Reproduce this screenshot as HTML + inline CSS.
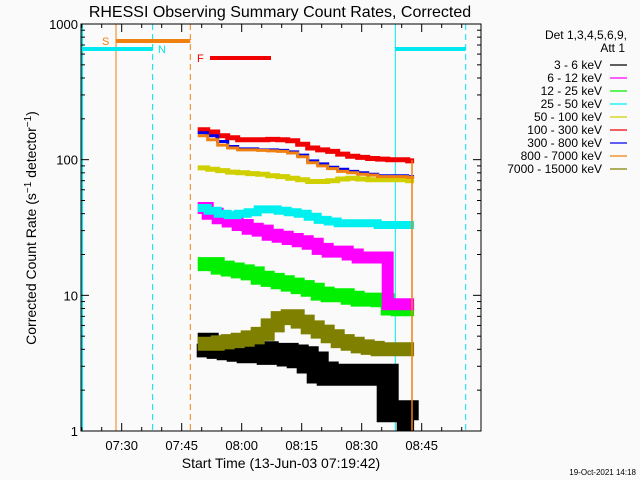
<!DOCTYPE html>
<html><head><meta charset="utf-8"><style>
body{margin:0;background:#fafafa;}
svg{display:block;font-family:"Liberation Sans",sans-serif;}
</style></head><body>
<svg id="chart" width="640" height="480" viewBox="0 0 640 480">
<rect width="640" height="480" fill="#fafafa"/>
<text x="280" y="17" text-anchor="middle" font-size="16" fill="#000">RHESSI Observing Summary Count Rates, Corrected</text>
<text transform="translate(36,228) rotate(-90)" text-anchor="middle" font-size="14" fill="#000">Corrected Count Rate (s<tspan dy="-5" font-size="10">−1</tspan><tspan dy="5"> detector</tspan><tspan dy="-5" font-size="10">−1</tspan><tspan dy="5">)</tspan></text>
<text x="281" y="468" text-anchor="middle" font-size="14" fill="#000">Start Time (13-Jun-03 07:19:42)</text>
<text x="636" y="475" text-anchor="end" font-size="8" fill="#000">19-Oct-2021 14:18</text>
<g id="marks"></g>
<g id="axes"></g>
<g id="legend"></g>
</svg>
<script>
const times=[19,21.5,24,26.5,29,31.5,34,36.5,39,41.5,44,46.5,49,51.5,54,56.5,59,61.5,64,66.5,69,71.5];
const red=[166,160,150,145,140,140,140,141,140,138,130,122,118,115,110,106,104,102,101,100,100,98];
const blue=[158,150,136,125,120,120,118,118,117,114,108,98,93,88,85,82,80,78,76,76,76,75];
const orange=[150,140,128,122,118,118,117,116,115,112,105,95,90,86,82,80,78,77,75,75,75,74];
const yellow=[87,85,83,81,80,79,78,76,75,73,71,69,69,70,72,73,72,71,71,71,71,70];
const cyan=[44,42,40,39,40,41,43,43,42,41,40,38,36,35,34,34,34,34,33,33,33,33];
const magenta=[44,40,37,35,33,31,30,28,27,26,25,24,22,21,21,20,19,19,19,8.6,8.6,8.6];
const green=[17,17,16,15.5,15,14.5,13.5,13,12.5,12,11.5,11,10.3,10,10,9.6,9.3,9.3,9.2,8,7.9,7.9];
const olive=[4.4,4.4,4.5,4.6,4.7,4.9,5.2,6,6.8,7,6.4,5.8,5.4,5,4.6,4.4,4.2,4.1,4,4,4,4];
const black=[4.4,4.2,4.1,4,3.9,3.8,3.8,3.7,3.7,3.6,3.5,3.2,2.7,2.6,2.6,2.6,2.6,2.6,2.6,1.4,1.4,1.2];
const yTickLabels=["1","10","100","1000"];
const xTickLabels=["07:30","07:45","08:00","08:15","08:30","08:45"];
const legendLabels=["3 - 6 keV","6 - 12 keV","12 - 25 keV","25 - 50 keV","50 - 100 keV","100 - 300 keV","300 - 800 keV","800 - 7000 keV","7000 - 15000 keV"];

const NS="http://www.w3.org/2000/svg";
const L=81,R=481,T=24,B=431;
const xs=t=>121.7+4*t;
const ys=v=>B-(B-T)/3*Math.log10(v);
function mk(tag,attrs,parent){const e=document.createElementNS(NS,tag);for(const k in attrs)e.setAttribute(k,attrs[k]);parent.appendChild(e);return e;}
const marks=document.getElementById('marks'),axes=document.getElementById('axes'),leg=document.getElementById('legend');

let e;
e=mk('line',{x1:116,y1:T,x2:116,y2:B,stroke:'#f08010','stroke-width':1},marks);

e=mk('line',{x1:152.6,y1:T,x2:152.6,y2:B,stroke:'#00e8f0','stroke-width':1,'stroke-dasharray':'6,4'},marks);

e=mk('line',{x1:190.3,y1:T,x2:190.3,y2:B,stroke:'#f08010','stroke-width':1,'stroke-dasharray':'6,4'},marks);

e=mk('line',{x1:395.3,y1:T,x2:395.3,y2:B,stroke:'#00e8f0','stroke-width':1},marks);

e=mk('line',{x1:465.7,y1:T,x2:465.7,y2:B,stroke:'#00e8f0','stroke-width':1,'stroke-dasharray':'6,4'},marks);

e=mk('line',{x1:82,y1:T,x2:82,y2:B,stroke:'#00e8f0','stroke-width':2},marks);

e=mk('line',{x1:81,y1:49,x2:152.6,y2:49,stroke:'#00e8f0','stroke-width':4},marks);

e=mk('line',{x1:395.3,y1:49,x2:465.7,y2:49,stroke:'#00e8f0','stroke-width':4},marks);

e=mk('line',{x1:116,y1:41,x2:190.3,y2:41,stroke:'#f08010','stroke-width':4},marks);

e=mk('line',{x1:210,y1:58,x2:271,y2:58,stroke:'#f00000','stroke-width':4},marks);

e=mk('text',{x:102,y:45,'font-size':11,fill:'#f08010'},marks);e.textContent='S';

e=mk('text',{x:158,y:53,'font-size':11,fill:'#00e8f0'},marks);e.textContent='N';

e=mk('text',{x:197,y:62,'font-size':11,fill:'#f00000'},marks);e.textContent='F';


const series=[
 {d:black,c:'#000000',w:22,n:'series-3-6kev'},
 {d:olive,c:'#808000',w:14,n:'series-7000-15000kev'},
 {d:green,c:'#00f000',w:14,n:'series-12-25kev'},
 {d:magenta,c:'#ff00ff',w:12,n:'series-6-12kev'},
 {d:cyan,c:'#00f0f0',w:8,n:'series-25-50kev'},
 {d:yellow,c:'#d0d000',w:5,n:'series-50-100kev'},
 {d:red,c:'#f00000',w:5,n:'series-100-300kev'},
 {d:blue,c:'#0000f0',w:3,n:'series-300-800kev'},
 {d:orange,c:'#f08010',w:3,n:'series-800-7000kev'}
];
series.forEach(s=>{
  let p='';
  s.d.forEach((v,i)=>{const x0=xs(times[i]),x1=i<times.length-1?xs(times[i+1]):xs(times[i]+1.6);const y=ys(v);p+=(i?'L':'M')+x0.toFixed(1)+','+y.toFixed(1)+'L'+x1.toFixed(1)+','+y.toFixed(1);});
  const el=mk('path',{d:p,fill:'none',stroke:s.c,'stroke-width':s.w},marks);
  
  
});
e=mk('line',{x1:412,y1:160,x2:412,y2:B,stroke:'#f08010','stroke-width':1.5},marks);


e=mk('rect',{x:L,y:T,width:R-L,height:B-T,fill:'none',stroke:'#000','stroke-width':1},axes);

yTickLabels.forEach((lab,i)=>{
  const y=ys(Math.pow(10,i));
  mk('line',{x1:L,y1:y,x2:L+8,y2:y,stroke:'#000'},axes);
  mk('line',{x1:R,y1:y,x2:R-8,y2:y,stroke:'#000'},axes);
  const t=mk('text',{x:L-3,y:y+5,'text-anchor':'end','font-size':13,fill:'#000'},axes);t.textContent=lab;
  
  if(i<3)for(let m=2;m<10;m++){const ym=ys(m*Math.pow(10,i));mk('line',{x1:L,y1:ym,x2:L+4,y2:ym,stroke:'#000'},axes);mk('line',{x1:R,y1:ym,x2:R-4,y2:ym,stroke:'#000'},axes);}
});
for(let t=-10;t<=90;t+=5){const x=xs(t);if(x<L||x>R)continue;const len=t%15===0?8:4;
  mk('line',{x1:x,y1:B,x2:x,y2:B-len,stroke:'#000'},axes);mk('line',{x1:x,y1:T,x2:x,y2:T+len,stroke:'#000'},axes);}
xTickLabels.forEach((lab,i)=>{const t=mk('text',{x:xs(i*15),y:450,'text-anchor':'middle','font-size':13,fill:'#000'},axes);t.textContent=lab;
  });
const legColors=['#000000','#ff00ff','#00f000','#00f0f0','#d0d000','#f00000','#0000f0','#f08010','#808000'];
let h=mk('text',{x:627,y:39,'text-anchor':'end','font-size':12,fill:'#000'},leg);h.textContent='Det 1,3,4,5,6,9,';

h=mk('text',{x:625,y:52,'text-anchor':'end','font-size':12,fill:'#000'},leg);h.textContent='Att 1';

legendLabels.forEach((lab,i)=>{const y=65+13*i;
  const t=mk('text',{x:602,y:y+4,'text-anchor':'end','font-size':12,fill:'#000'},leg);t.textContent=lab;
  
  mk('line',{x1:610,y1:y,x2:627,y2:y,stroke:legColors[i],'stroke-width':1.3},leg);});
</script>
</body></html>
